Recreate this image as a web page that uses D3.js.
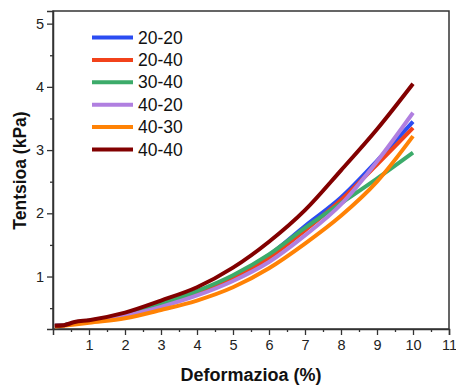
<!DOCTYPE html>
<html>
<head>
<meta charset="utf-8">
<script src="https://cdn.jsdelivr.net/npm/d3@7"></script>
<style>
  body { margin: 0; background: #fff; }
  text { font-family: Arial, "Liberation Sans", sans-serif; }
</style>
</head>
<body>
<svg id="chart" width="456" height="385"></svg>
<script>
// strain (%) sample points shared by all curves
const strain = [0.05, 0.3, 0.6, 1, 2, 3, 4, 5, 6, 7, 8, 9, 10];

const seriesNames = ['20-20', '20-40', '30-40', '40-20', '40-30', '40-40'];
const seriesColors = ['#2b4cf2', '#f2421b', '#3cab6a', '#b07fe0', '#ff8205', '#820000'];

const s2020 = [0.22, 0.23, 0.27, 0.30, 0.40, 0.56, 0.76, 1.00, 1.34, 1.80, 2.25, 2.83, 3.45];
const s2040 = [0.22, 0.23, 0.26, 0.29, 0.39, 0.54, 0.73, 0.96, 1.29, 1.73, 2.21, 2.77, 3.35];
const s3040 = [0.22, 0.23, 0.27, 0.30, 0.41, 0.57, 0.77, 1.02, 1.35, 1.77, 2.16, 2.55, 2.96];
const s4020 = [0.22, 0.23, 0.26, 0.29, 0.38, 0.52, 0.70, 0.93, 1.23, 1.65, 2.14, 2.82, 3.59];
const s4030 = [0.21, 0.22, 0.24, 0.27, 0.34, 0.47, 0.62, 0.83, 1.13, 1.52, 1.96, 2.50, 3.22];
const s4040 = [0.22, 0.23, 0.28, 0.31, 0.43, 0.62, 0.83, 1.14, 1.55, 2.05, 2.68, 3.33, 4.05];

const seriesValues = [s2020, s2040, s3040, s4020, s4030, s4040];

const xTicks = [1, 2, 3, 4, 5, 6, 7, 8, 9, 10, 11];
const yTicks = [1, 2, 3, 4, 5];

const margin = { top: 11, right: 7, bottom: 56, left: 53 };
const width = 456 - margin.left - margin.right;
const height = 385 - margin.top - margin.bottom;

const svg = d3.select('#chart');
const g = svg.append('g')
    .attr('transform', `translate(${margin.left},${margin.top})`);

const x = d3.scaleLinear().domain([0, 11]).range([0, width]);
const y = d3.scaleLinear().domain([0.17, 5.2]).range([height, 0]);

const axisColor = '#333';

// minor ticks (halves)
const xMinor = d3.range(0.5, 11, 1);
const yMinor = d3.range(0.5, 5.1, 1);

g.append('g')
    .attr('transform', `translate(0,${height})`)
    .call(d3.axisBottom(x).tickValues(xTicks).tickSize(6).tickPadding(5).tickFormat(d3.format('d')));
g.append('g')
    .attr('transform', `translate(0,${height})`)
    .call(d3.axisBottom(x).tickValues(xMinor).tickSize(3).tickFormat(''))
    .call(a => a.select('.domain').remove());

g.append('g')
    .call(d3.axisLeft(y).tickValues(yTicks).tickSize(6).tickPadding(3).tickFormat(d3.format('d')));
g.append('g')
    .call(d3.axisLeft(y).tickValues(yMinor).tickSize(3).tickFormat(''))
    .call(a => a.select('.domain').remove());

g.selectAll('.tick line').attr('stroke', axisColor).attr('stroke-width', 1.3);
g.selectAll('.domain').attr('stroke', axisColor).attr('stroke-width', 1.5);
g.selectAll('.tick text').attr('fill', '#222').style('font-size', '14.5px');

// frame on top and right
g.append('rect')
    .attr('width', width)
    .attr('height', height)
    .attr('fill', 'none')
    .attr('stroke', axisColor)
    .attr('stroke-width', 1.5);

// curves
const line = d3.line()
    .x(d => x(d[0]))
    .y(d => y(d[1]))
    .curve(d3.curveMonotoneX);

const curves = g.append('g').attr('class', 'curves');
seriesValues.forEach((vals, i) => {
    curves.append('path')
        .datum(vals.map((v, j) => [strain[j], v]))
        .attr('d', line)
        .attr('fill', 'none')
        .attr('stroke', seriesColors[i])
        .attr('stroke-width', 4)
        .attr('stroke-linejoin', 'round');
});

// legend
const legend = g.append('g').attr('transform', 'translate(39,26.5)');
seriesNames.forEach((name, i) => {
    const row = legend.append('g').attr('transform', `translate(0,${i * 22.4})`);
    row.append('line')
        .attr('x1', 0).attr('x2', 41)
        .attr('stroke', seriesColors[i])
        .attr('stroke-width', 4);
    row.append('text')
        .attr('x', 46)
        .attr('dy', '0.35em')
        .attr('fill', '#111')
        .style('font-size', '17.5px')
        .text(name);
});

// axis titles
svg.append('text')
    .attr('x', 251)
    .attr('y', 381)
    .attr('text-anchor', 'middle')
    .style('font-size', '18px')
    .style('font-weight', 'bold')
    .attr('fill', '#111')
    .text('Deformazioa (%)');

svg.append('text')
    .attr('transform', 'translate(26,170.5) rotate(-90)')
    .attr('text-anchor', 'middle')
    .style('font-size', '17.5px')
    .style('font-weight', 'bold')
    .attr('fill', '#111')
    .text('Tentsioa (kPa)');
</script>
</body>
</html>
